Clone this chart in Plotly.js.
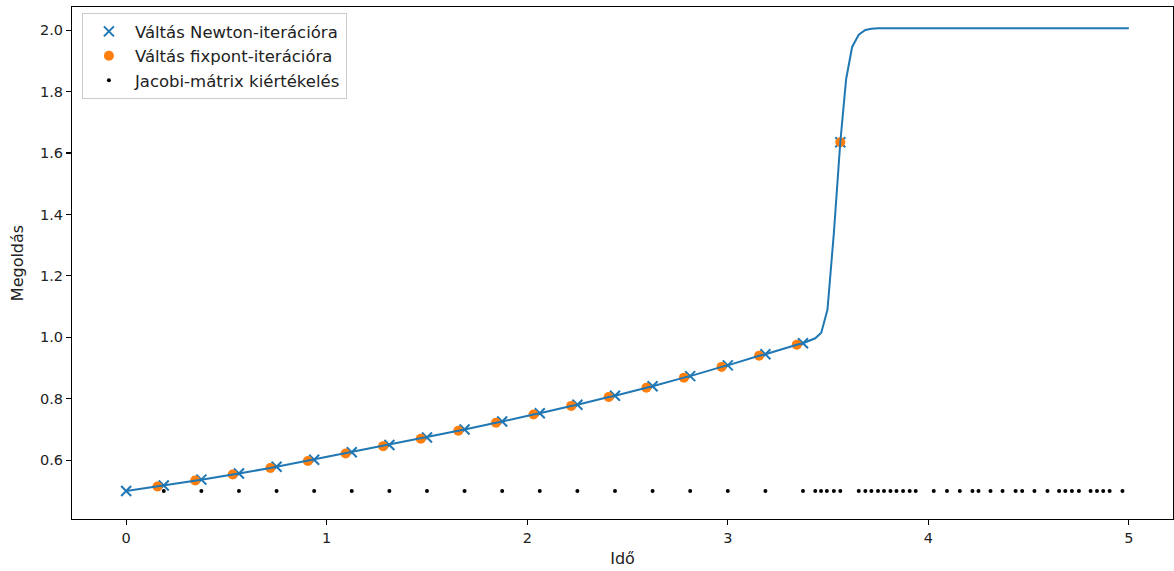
<!DOCTYPE html>
<html>
<head>
<meta charset="utf-8">
<script src="https://cdn.plot.ly/plotly-3.0.1.min.js"></script>
<style>html,body{margin:0;padding:0;background:#fff;}#chart{width:1174px;height:571px;}</style>
</head>
<body>
<div id="chart"></div>
<script>
// Solution curve (time, value)
const lineT = [0, 0.156, 0.1875, 0.344, 0.375, 0.531, 0.5625, 0.719, 0.75, 0.906, 0.9375, 1.094, 1.125, 1.281, 1.3125, 1.469, 1.5, 1.656, 1.6875, 1.844, 1.875, 2.031, 2.0625, 2.219, 2.25, 2.406, 2.4375, 2.594, 2.625, 2.781, 2.8125, 2.969, 3.0, 3.156, 3.1875, 3.344, 3.375, 3.436, 3.466, 3.497, 3.529, 3.561, 3.59, 3.62, 3.653, 3.686, 3.716, 3.75, 5.0];
const lineY = [0.500, 0.515, 0.518, 0.534, 0.537, 0.554, 0.557, 0.575, 0.579, 0.598, 0.602, 0.622, 0.626, 0.646, 0.650, 0.670, 0.674, 0.696, 0.700, 0.722, 0.726, 0.749, 0.753, 0.777, 0.781, 0.806, 0.810, 0.836, 0.841, 0.869, 0.874, 0.904, 0.909, 0.940, 0.945, 0.976, 0.981, 0.997, 1.015, 1.090, 1.340, 1.635, 1.840, 1.945, 1.985, 2.000, 2.004, 2.006, 2.006];

// Switch to Newton iteration
const newtonT = [0, 0.1875, 0.375, 0.5625, 0.75, 0.9375, 1.125, 1.3125, 1.5, 1.6875, 1.875, 2.0625, 2.25, 2.4375, 2.625, 2.8125, 3.0, 3.1875, 3.375, 3.561];
const newtonY = [0.500, 0.518, 0.537, 0.557, 0.579, 0.602, 0.626, 0.650, 0.674, 0.700, 0.726, 0.753, 0.781, 0.810, 0.841, 0.874, 0.909, 0.945, 0.981, 1.635];

// Switch to fixed-point iteration
const fixT = [0.156, 0.344, 0.531, 0.719, 0.906, 1.094, 1.281, 1.469, 1.656, 1.844, 2.031, 2.219, 2.406, 2.594, 2.781, 2.969, 3.156, 3.344, 3.561];
const fixY = [0.515, 0.534, 0.554, 0.575, 0.598, 0.622, 0.646, 0.670, 0.696, 0.722, 0.749, 0.777, 0.806, 0.836, 0.869, 0.904, 0.940, 0.976, 1.635];

// Jacobian evaluations (drawn at a fixed level)
const jacobiT = [0.1875, 0.375, 0.5625, 0.75, 0.9375, 1.125, 1.3125, 1.5, 1.6875, 1.875, 2.0625, 2.25, 2.4375, 2.625, 2.8125, 3.0, 3.1875, 3.375, 3.436, 3.465, 3.494, 3.529, 3.561, 3.653, 3.686, 3.716, 3.749, 3.779, 3.811, 3.841, 3.874, 3.907, 3.937, 4.027, 4.093, 4.157, 4.220, 4.250, 4.310, 4.370, 4.435, 4.468, 4.529, 4.594, 4.652, 4.683, 4.716, 4.751, 4.809, 4.841, 4.872, 4.904, 4.968];
const jacobiLevel = 0.5;
const jacobiY = jacobiT.map(() => jacobiLevel);

const xTicks = [0, 1, 2, 3, 4, 5];
const yTicks = [0.6, 0.8, 1.0, 1.2, 1.4, 1.6, 1.8, 2.0];

const FONT = 'DejaVu Sans, sans-serif';
const TXT = '#222';

const traces = [
  {x: newtonT, y: newtonY, type: 'scatter', mode: 'markers', name: 'Váltás Newton-iterációra',
   marker: {symbol: 'x-thin', size: 10, color: '#1f77b4', line: {width: 2, color: '#1f77b4'}}},
  {x: fixT, y: fixY, type: 'scatter', mode: 'markers', name: 'Váltás fixpont-iterációra',
   marker: {symbol: 'circle', size: 10, color: '#ff7f0e', line: {width: 0}}},
  {x: jacobiT, y: jacobiY, type: 'scatter', mode: 'markers', name: 'Jacobi-mátrix kiértékelés',
   marker: {symbol: 'circle', size: 4, color: '#000000', line: {width: 0}}},
  {x: lineT, y: lineY, type: 'scatter', mode: 'lines', showlegend: false,
   line: {color: '#1f77b4', width: 2}}
];

const axisCommon = {
  showgrid: false, zeroline: false, showline: true, mirror: true,
  linecolor: '#000', linewidth: 1.1, ticks: 'outside', ticklen: 5, tickwidth: 1.1, tickcolor: '#000',
  tickfont: {family: FONT, size: 14.5, color: TXT}
};

const layout = {
  width: 1174, height: 571,
  margin: {l: 72, r: 1, t: 7, b: 52},
  paper_bgcolor: '#fff', plot_bgcolor: '#fff',
  font: {family: FONT, size: 14.5, color: TXT},
  showlegend: true,
  legend: {x: 0.009, y: 0.988, xanchor: 'left', yanchor: 'top', itemwidth: 42,
    bgcolor: 'rgba(255,255,255,0.8)', bordercolor: '#cccccc', borderwidth: 1,
    font: {family: FONT, size: 16.5, color: TXT}},
  xaxis: Object.assign({}, axisCommon, {
    range: [-0.27, 5.22], tickvals: xTicks, ticktext: xTicks.map(String),
    title: {text: 'Idő', font: {family: FONT, size: 16, color: TXT}, standoff: 8}
  }),
  yaxis: Object.assign({}, axisCommon, {
    range: [0.409, 2.075], tickvals: yTicks, ticktext: yTicks.map(v => v.toFixed(1)),
    title: {text: 'Megoldás', font: {family: FONT, size: 16, color: TXT}, standoff: 12}
  })
};

Plotly.newPlot('chart', traces, layout, {staticPlot: true, displayModeBar: false});
</script>
</body>
</html>
